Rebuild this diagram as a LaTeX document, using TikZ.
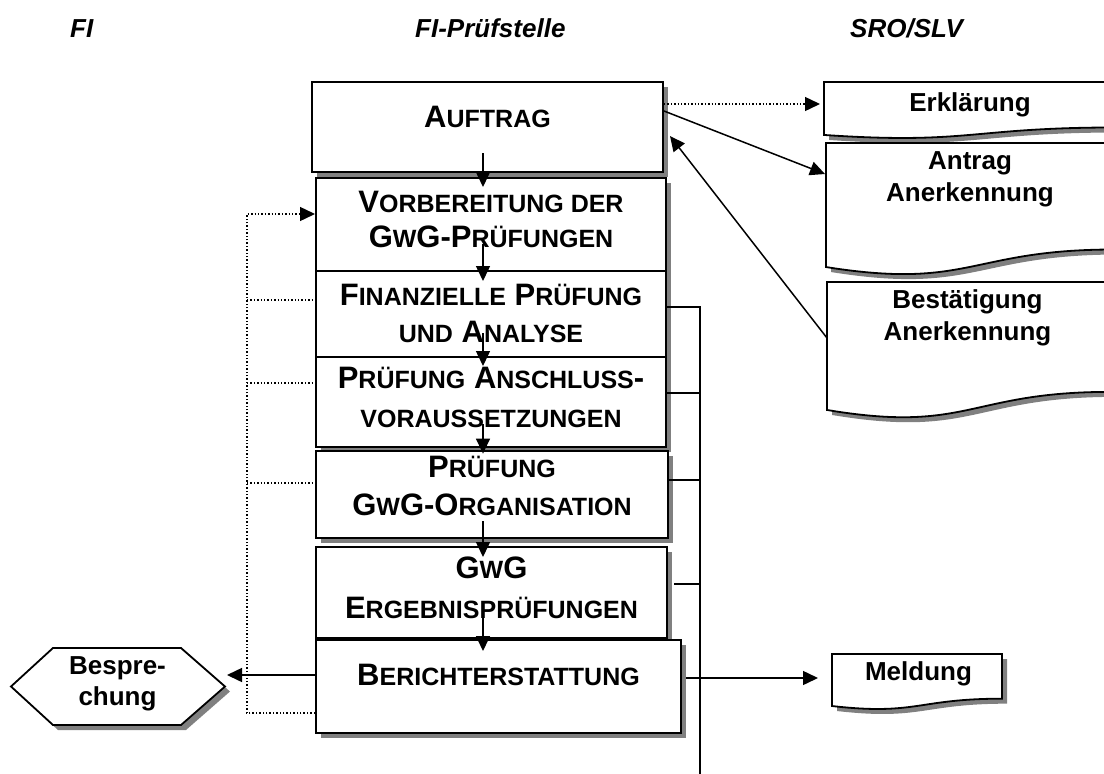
\documentclass[tikz,border=0pt]{standalone}
\usepackage{fontspec}
\setmainfont{Liberation Sans}
\usetikzlibrary{calc,shadows,arrows.meta}
\definecolor{shadowc}{RGB}{128,128,128}
\newcommand\sm[1]{{\fontsize{25}{30}\selectfont #1}}
\newcommand\docpath[2]{($(#1.north west)+#2$) -- ($(#1.north east)+#2$) -- ($(#1.north east)!0.802!(#1.south east)+#2$) .. controls ($(#1.north)!0.802!(#1.south)+#2$) and ($(#1.north)!1.107!(#1.south)+#2$) .. ($(#1.north west)!0.934!(#1.south west)+#2$) -- cycle}
\newcommand\hexpath[2]{($(#1.west)+#2$) -- ($(#1.north west)+(42pt,0pt)+#2$) -- ($(#1.north east)+(-44pt,0pt)+#2$) -- ($(#1.east)+#2$) -- ($(#1.south east)+(-44pt,0pt)+#2$) -- ($(#1.south west)+(42pt,0pt)+#2$) -- cycle}
\begin{document}
\begin{tikzpicture}[x=1pt,y=-1pt,
  procbox/.style={draw=black, line width=2pt, fill=white, inner sep=0pt,
    drop shadow={shadow xshift=5pt, shadow yshift=-5pt, fill=shadowc, opacity=1}},
  anchorbox/.style={inner sep=0pt, outer sep=0pt, draw=none},
  btext/.style={font=\bfseries\fontsize{31}{35}\selectfont, anchor=base, inner sep=0pt},
  dtext/.style={font=\bfseries\fontsize{26}{30}\selectfont, anchor=base, inner sep=0pt},
  head/.style={font=\bfseries\itshape\fontsize{26}{30}\selectfont, anchor=base west, inner sep=0pt},
  flow/.style={line width=1.5pt, -{Triangle[length=15pt,width=14pt]}},
  dotl/.style={dotted, line width=1.4pt},
  bus/.style={line width=2pt},
  stub/.style={line width=1.6pt},
  docline/.style={draw=black, fill=white, line width=1.8pt}
]
\useasboundingbox (0,0) rectangle (1104,774);
\clip (0,0) rectangle (1104,774);

% headers
\node[head] (h1) at (70,37) {FI};
\node[head] (h2) at (415,37) {FI-Prüfstelle};
\node[head] (h3) at (850,37) {SRO/SLV};

% process boxes
\node[procbox, minimum width=351pt, minimum height=90pt] (b1) at (487.5,127) {};
\node[procbox, minimum width=350pt, minimum height=93pt] (b2) at (491,224.5) {};
\node[procbox, minimum width=350pt, minimum height=86pt] (b3) at (491,314) {};
\node[procbox, minimum width=350pt, minimum height=90pt] (b4) at (491,402) {};
\node[procbox, line width=2.8pt, minimum width=352pt, minimum height=87pt] (b5) at (492,494.5) {};
\node[procbox, minimum width=351pt, minimum height=91pt] (b6) at (491.5,592.5) {};
\node[procbox, minimum width=365pt, minimum height=93pt] (b7) at (498.5,686.5) {};

\node[btext] (t1) at (487.5,127) {A\sm{UFTRAG}};
\node[btext] (t2a) at (491,212) {V\sm{ORBEREITUNG DER}};
\node[btext] (t2b) at (491,247) {G\sm{W}G-P\sm{RÜFUNGEN}};
\node[btext] (t3a) at (491,305) {F\sm{INANZIELLE} P\sm{RÜFUNG}};
\node[btext] (t3b) at (491,342) {\sm{UND} A\sm{NALYSE}};
\node[btext] (t4a) at (491,388) {P\sm{RÜFUNG} A\sm{NSCHLUSS}-};
\node[btext] (t4b) at (491,427) {\sm{VORAUSSETZUNGEN}};
\node[btext] (t5a) at (492,477) {P\sm{RÜFUNG}};
\node[btext] (t5b) at (492,515) {G\sm{W}G-O\sm{RGANISATION}};
\node[btext] (t6a) at (491.5,578) {G\sm{W}G};
\node[btext] (t6b) at (491.5,618) {E\sm{RGEBNISPRÜFUNGEN}};
\node[btext] (t7) at (498.5,685) {B\sm{ERICHTERSTATTUNG}};

% documents (right)
\node[anchorbox, minimum width=292pt, minimum height=56.7pt] (erk) at (970,110.35) {};
\node[anchorbox, minimum width=288pt, minimum height=132.8pt] (ant) at (970,209.4) {};
\node[anchorbox, minimum width=283pt, minimum height=137pt] (best) at (968.5,350.5) {};
\node[anchorbox, minimum width=170pt, minimum height=55.7pt] (meld) at (917,681.85) {};
\foreach \d in {erk,ant,best,meld}{
  \fill[shadowc] \docpath{\d}{(5pt,-5pt)};
  \path[docline] \docpath{\d}{(0pt,0pt)};
}
\node[dtext] (te) at (970,111) {Erklärung};
\node[dtext] (ta1) at (970,169) {Antrag};
\node[dtext] (ta2) at (970,201) {Anerkennung};
\node[dtext] (tb1) at (967.5,308) {Bestätigung};
\node[dtext] (tb2) at (967.5,340) {Anerkennung};
\node[dtext] (tm) at (918.5,680) {Meldung};

% Besprechung hexagon
\node[anchorbox, minimum width=214pt, minimum height=77pt] (besp) at (118,686.5) {};
\fill[shadowc] \hexpath{besp}{(5pt,-5pt)};
\path[docline] \hexpath{besp}{(0pt,0pt)};
\node[dtext] (tp1) at (117.5,674) {Bespre-};
\node[dtext] (tp2) at (117.5,705) {chung};

% vertical flow arrows
\draw[flow] ($(b1.south)+(-4.5,-20)$) -- ($(b2.north)+(-8,10)$);
\draw[flow] ($(b2.south)+(-8,-28)$) -- ($(b3.north)+(-8,11)$);
\draw[flow] ($(b3.south)+(-8,-25)$) -- ($(b4.north)+(-8,10)$);
\draw[flow] ($(b4.south)+(-8,-24)$) -- ($(b5.north)+(-9,4)$);
\draw[flow] ($(b5.south)+(-9,-18)$) -- ($(b6.north)+(-8.5,11)$);
\draw[flow] ($(b6.south)+(-8.5,-28)$) -- ($(b7.north)+(-15.5,12)$);

% right bus
\coordinate (r3) at (700,307);
\coordinate (r4) at (700,393);
\coordinate (r5) at (700,480);
\coordinate (r6) at (700,584);
\coordinate (r7) at (700,678);
\coordinate (rb) at (700,780);
\draw[bus] (b3.east |- r3) -- (r3) -- (rb);
\draw[stub] (b4.east |- r4) -- (r4);
\draw[stub] (b5.east |- r5) -- (r5);
\draw[stub] ($(b6.east |- r6)+(6,0)$) -- (r6);
\draw[flow] ($(b7.east |- r7)+(4,0)$) -- ($(meld.west |- r7)+(-14,0)$);

% left dotted feedback
\coordinate (d2) at (247,214);
\coordinate (d3) at (247,300);
\coordinate (d4) at (247,383);
\coordinate (d5) at (247,483);
\coordinate (d7) at (247,713);
\draw[dotl, -{Triangle[length=15pt,width=14pt]}] (d7 -| b7.west) -- (d7) -- (d2) -- (d2 -| b2.west);
\draw[dotl] (d3) -- (d3 -| b3.west);
\draw[dotl] (d4) -- (d4 -| b4.west);
\draw[dotl] (d5) -- (d5 -| b5.west);

% Besprechung arrow
\coordinate (bz) at (300,675);
\draw[flow] (b7.west |- bz) -- ($(besp.east |- bz)+(2,0)$);

% Auftrag <-> SRO/SLV
\coordinate (e1) at (700,104);
\draw[dotl, -{Triangle[length=15pt,width=14pt]}] (b1.east |- e1) -- ($(erk.west |- e1)+(-4,0)$);
\draw[flow] ($(b1.north east)+(0,30)$) -- ($(ant.north west)+(-1,31)$);
\draw[flow] ($(best.north west)+(0,56)$) -- ($(b1.north east)+(6,55)$);
\end{tikzpicture}
\end{document}
